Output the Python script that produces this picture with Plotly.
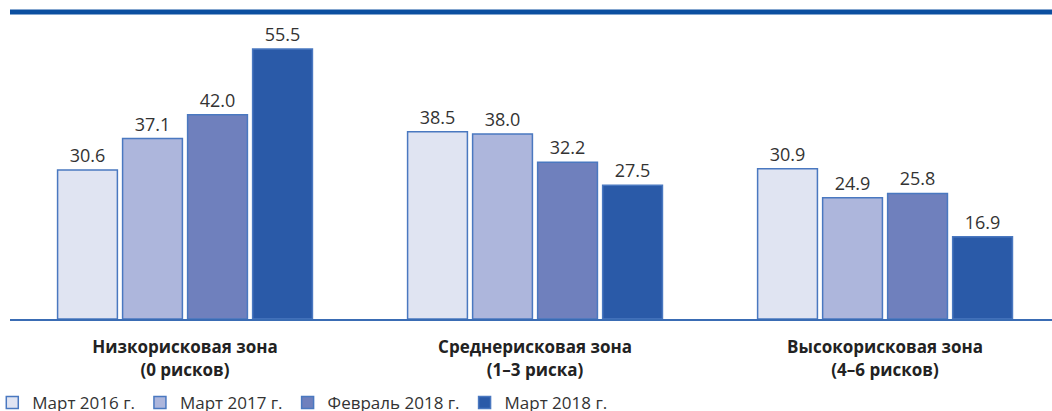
import plotly.graph_objects as go

# Categories (risk zones) and survey periods
zones = [
    "<b>Низкорисковая зона</b><br><b>(0 рисков)</b>",
    "<b>Среднерисковая зона</b><br><b>(1–3 риска)</b>",
    "<b>Высокорисковая зона</b><br><b>(4–6 рисков)</b>",
]
periods = ["Март 2016 г.", "Март 2017 г.", "Февраль 2018 г.", "Март 2018 г."]

mar_2016 = [30.6, 38.5, 30.9]
mar_2017 = [37.1, 38.0, 24.9]
feb_2018 = [42.0, 32.2, 25.8]
mar_2018 = [55.5, 27.5, 16.9]

series = [mar_2016, mar_2017, feb_2018, mar_2018]
colors = ["#e0e4f2", "#adb6dc", "#6f80bd", "#2a5aa8"]
edge = "#4a78c0"
font_family = "Open Sans, Noto Sans, sans-serif"

fig = go.Figure()
for name, vals, col in zip(periods, series, colors):
    fig.add_trace(go.Bar(
        x=zones,
        y=vals,
        name=name,
        marker=dict(color=col, line=dict(color=edge, width=1.5)),
        text=[f"{v:.1f}" for v in vals],
        textposition="outside",
        textfont=dict(size=18, color="#333333", family=font_family),
        cliponaxis=False,
    ))

fig.update_layout(
    width=1052,
    height=411,
    margin=dict(l=10, r=0, t=12, b=92, autoexpand=False),
    paper_bgcolor="white",
    plot_bgcolor="white",
    barmode="group",
    bargap=0.257,
    bargroupgap=0.08,
    font=dict(family=font_family, size=16, color="#222222"),
    showlegend=True,
    legend=dict(
        orientation="h",
        x=-0.017, xanchor="left",
        y=-0.215, yanchor="top",
        font=dict(size=17, color="#333333"),
        itemwidth=30,
        traceorder="normal",
    ),
    xaxis=dict(
        range=[-0.5, 2.477],
        showgrid=False,
        showline=True,
        linecolor="#3a6cb4",
        linewidth=2,
        ticks="",
        ticklabelstandoff=12,
        tickfont=dict(size=17, color="#222222"),
    ),
    yaxis=dict(
        range=[0, 63.1],
        visible=False,
    ),
    shapes=[dict(
        type="line", xref="paper", yref="paper",
        x0=0, x1=1.01, y0=1, y1=1,
        line=dict(color="#0b4fa0", width=5),
    )],
)

# drop the browser's default 8px body margin so the figure sits at the window's corner
fig.write_html(
    "out.html",
    config={"displayModeBar": False},
    post_script="document.body.style.margin='0';",
)
